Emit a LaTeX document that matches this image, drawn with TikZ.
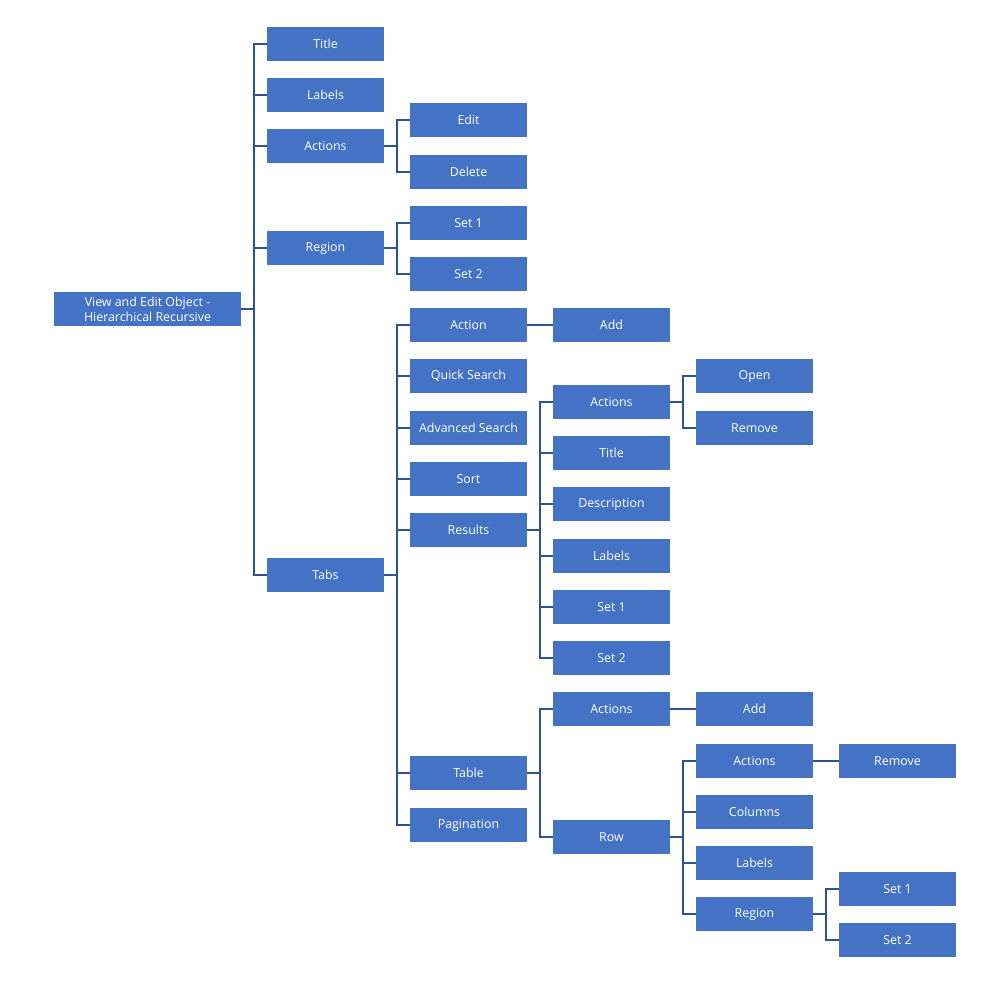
\documentclass[tikz,border=0pt]{standalone}
\usepackage{fontspec}
\setmainfont{Open Sans}
\definecolor{boxblue}{HTML}{4472C4}
\definecolor{linkblue}{HTML}{2F528F}
\begin{document}
\begin{tikzpicture}[x=0.75pt, y=-0.75pt]
      %% Styles
      \tikzset
      {
      item/.style={rectangle, fill=boxblue, text=white, inner sep=0pt, outer sep=0pt, minimum width=87.75pt, minimum height=25.5pt, font=\fontsize{9.3}{11.25}\selectfont, align=center},
      root item/.style = {item, minimum width=140.25pt},
      link/.style = {draw=linkblue, line width=1.5pt},
      }
      \useasboundingbox (0,0) rectangle (998,981);
      %% Root
      \node[root item] (root) at (147.5,309) {View and Edit Object -\\Hierarchical Recursive};
      %% Level 1
      \node[item] (title) at (325.5,44) {Title};
      \node[item] (labels) at (325.5,95) {Labels};
      \node[item] (actions) at (325.5,146) {Actions};
      \node[item] (region) at (325.5,248) {Region};
      \node[item] (tabs) at (325.5,575) {Tabs};
      %% Level 2
      \node[item] (edit) at (468.5,120) {Edit};
      \node[item] (delete) at (468.5,172) {Delete};
      \node[item] (rset1) at (468.5,223) {Set 1};
      \node[item] (rset2) at (468.5,274) {Set 2};
      \node[item] (taction) at (468.5,325) {Action};
      \node[item] (qsearch) at (468.5,376) {Quick Search};
      \node[item] (asearch) at (468.5,428) {Advanced Search};
      \node[item] (sort) at (468.5,479) {Sort};
      \node[item] (results) at (468.5,530) {Results};
      \node[item] (table) at (468.5,773) {Table};
      \node[item] (pagination) at (468.5,825) {Pagination};
      %% Level 3
      \node[item] (tadd) at (611.5,325) {Add};
      \node[item] (ractions) at (611.5,402) {Actions};
      \node[item] (rtitle) at (611.5,453) {Title};
      \node[item] (rdesc) at (611.5,504) {Description};
      \node[item] (rlabels) at (611.5,556) {Labels};
      \node[item] (resset1) at (611.5,607) {Set 1};
      \node[item] (resset2) at (611.5,658) {Set 2};
      \node[item] (tactions) at (611.5,709) {Actions};
      \node[item] (row) at (611.5,837) {Row};
      %% Level 4
      \node[item] (open) at (754.5,376) {Open};
      \node[item] (remove) at (754.5,428) {Remove};
      \node[item] (tbadd) at (754.5,709) {Add};
      \node[item] (rowactions) at (754.5,761) {Actions};
      \node[item] (columns) at (754.5,812) {Columns};
      \node[item] (rowlabels) at (754.5,863) {Labels};
      \node[item] (rowregion) at (754.5,914) {Region};
      %% Level 5
      \node[item] (rowremove) at (897.5,761) {Remove};
      \node[item] (rowset1) at (897.5,889) {Set 1};
      \node[item] (rowset2) at (897.5,940) {Set 2};
      %% Links from root
      \draw [link] (root.east) -- ++(13,0) |- (title.west)
      (root.east) -- ++(13,0) |- (labels.west)
      (root.east) -- ++(13,0) |- (actions.west)
      (root.east) -- ++(13,0) |- (region.west)
      (root.east) -- ++(13,0) |- (tabs.west)
      %% Actions and region
      (actions.east) -- ++(13,0) |- (edit.west)
      (actions.east) -- ++(13,0) |- (delete.west)
      (region.east) -- ++(13,0) |- (rset1.west)
      (region.east) -- ++(13,0) |- (rset2.west)
      %% Tabs
      (tabs.east) -- ++(13,0) |- (taction.west)
      (tabs.east) -- ++(13,0) |- (qsearch.west)
      (tabs.east) -- ++(13,0) |- (asearch.west)
      (tabs.east) -- ++(13,0) |- (sort.west)
      (tabs.east) -- ++(13,0) |- (results.west)
      (tabs.east) -- ++(13,0) |- (table.west)
      (tabs.east) -- ++(13,0) |- (pagination.west)
      (taction.east) -- (tadd.west)
      %% Results
      (results.east) -- ++(13,0) |- (ractions.west)
      (results.east) -- ++(13,0) |- (rtitle.west)
      (results.east) -- ++(13,0) |- (rdesc.west)
      (results.east) -- ++(13,0) |- (rlabels.west)
      (results.east) -- ++(13,0) |- (resset1.west)
      (results.east) -- ++(13,0) |- (resset2.west)
      (ractions.east) -- ++(13,0) |- (open.west)
      (ractions.east) -- ++(13,0) |- (remove.west)
      %% Table
      (table.east) -- ++(13,0) |- (tactions.west)
      (table.east) -- ++(13,0) |- (row.west)
      (tactions.east) -- (tbadd.west)
      (row.east) -- ++(13,0) |- (rowactions.west)
      (row.east) -- ++(13,0) |- (columns.west)
      (row.east) -- ++(13,0) |- (rowlabels.west)
      (row.east) -- ++(13,0) |- (rowregion.west)
      (rowactions.east) -- (rowremove.west)
      (rowregion.east) -- ++(13,0) |- (rowset1.west)
      (rowregion.east) -- ++(13,0) |- (rowset2.west);
\end{tikzpicture}
\end{document}
